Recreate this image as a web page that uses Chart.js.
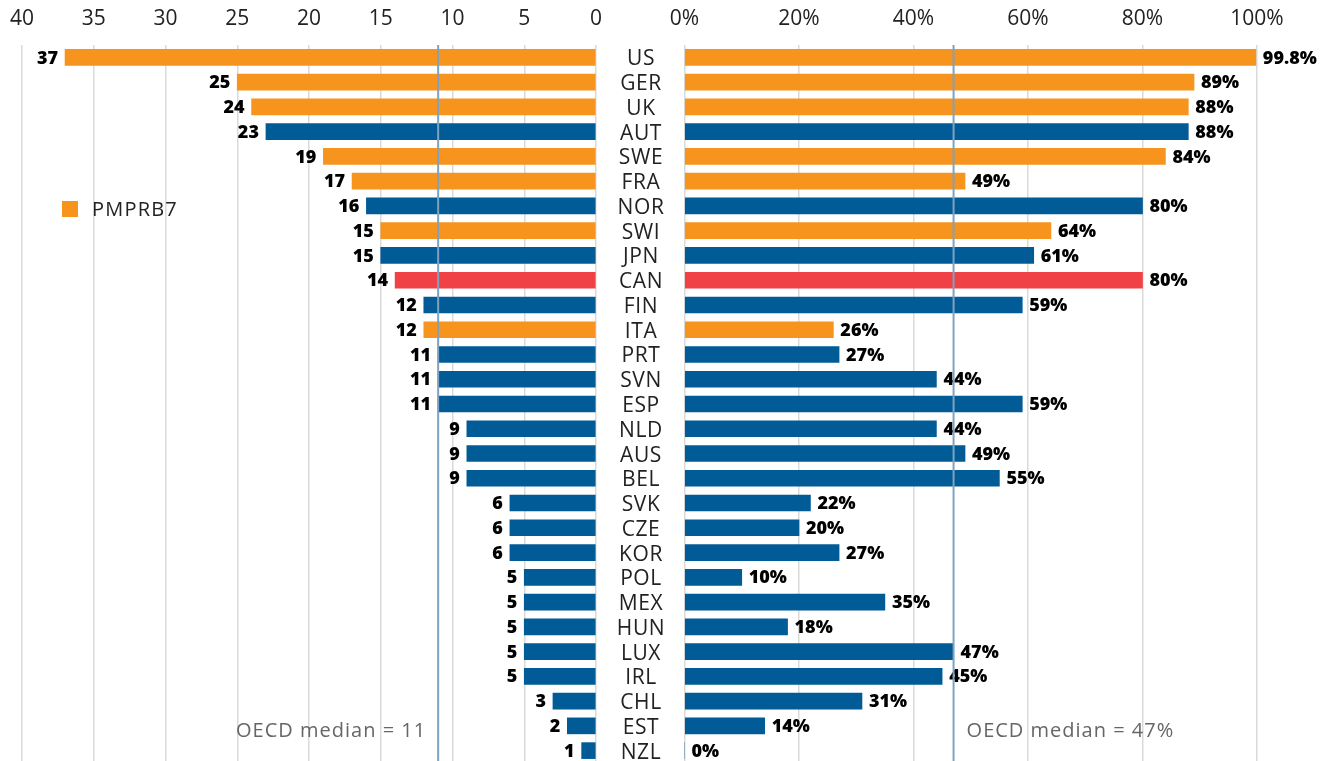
<!DOCTYPE html>
<html>
<head>
<meta charset="utf-8">
<script src="https://cdn.jsdelivr.net/npm/chart.js@4.4.1/dist/chart.umd.min.js"></script>
<style>
  html, body { margin:0; padding:0; background:#fff; overflow:hidden; }
  body { width:1334px; height:761px; position:relative; }
  #leftWrap  { position:absolute; left:0;   top:0; width:610px; height:763px; }
  #rightWrap { position:absolute; left:600px; top:0; width:734px; height:763px; }
  .legend { position:absolute; left:62px; top:195px; font:20px "Open Sans", sans-serif; letter-spacing:1.2px; color:#222; }
  .legend .sw { display:inline-block; width:16px; height:16px; background:#F7941D; vertical-align:-1px; margin-right:14px; }
</style>
</head>
<body>
<div id="leftWrap"><canvas id="leftChart"></canvas></div>
<div id="rightWrap"><canvas id="rightChart"></canvas></div>
<div class="legend"><span class="sw"></span>PMPRB7</div>
<script>
const COUNTRIES = ["US","GER","UK","AUT","SWE","FRA","NOR","SWI","JPN","CAN","FIN","ITA","PRT","SVN","ESP",
                   "NLD","AUS","BEL","SVK","CZE","KOR","POL","MEX","HUN","LUX","IRL","CHL","EST","NZL"];
const COUNT_VALUES = [37,25,24,23,19,17,16,15,15,14,12,12,11,11,11,9,9,9,6,6,6,5,5,5,5,5,3,2,1];
const SHARE_VALUES = [99.8,89,88,88,84,49,80,64,61,80,59,26,27,44,59,44,49,55,22,20,27,10,35,18,47,45,31,14,0];
const SHARE_LABELS = ["99.8%","89%","88%","88%","84%","49%","80%","64%","61%","80%","59%","26%","27%","44%","59%",
                      "44%","49%","55%","22%","20%","27%","10%","35%","18%","47%","45%","31%","14%","0%"];
const PMPRB7 = ["US","GER","UK","SWE","FRA","SWI","ITA"];
const HIGHLIGHT = "CAN";
const MEDIAN_COUNT = 11;
const MEDIAN_SHARE = 47;

const ORANGE = "#F7941D", BLUE = "#005B96", RED = "#EF4146";
const colors = COUNTRIES.map(c => c===HIGHLIGHT ? RED : (PMPRB7.includes(c) ? ORANGE : BLUE));
const FONT = '"Open Sans", sans-serif';

function barLabels(texts, side) {
  return {
    id: "barLabels",
    afterDatasetsDraw(chart) {
      const ctx = chart.ctx;
      const meta = chart.getDatasetMeta(0);
      ctx.save();
      ctx.font = "800 18px " + FONT;
      ctx.fillStyle = "#000";
      ctx.textBaseline = "middle";
      ctx.textAlign = side==="left" ? "right" : "left";
      meta.data.forEach((bar,i)=>{
        const x = side==="left" ? bar.x - 7 : bar.x + 7;
        ctx.fillText(texts[i], x, bar.y + 1);
      });
      ctx.restore();
    }
  };
}
// category names sit between the two panels, placed from the right chart's y scale
const categoryLabels = {
  id: "categoryLabels",
  afterDraw(chart) {
    const ctx = chart.ctx, y = chart.scales.y;
    ctx.save();
    ctx.font = "21px " + FONT;
    ctx.letterSpacing = "0.6px";
    ctx.fillStyle = "#222";
    ctx.textAlign = "center";
    ctx.textBaseline = "middle";
    COUNTRIES.forEach((c,i)=> ctx.fillText(c, y.left + 41, y.getPixelForValue(i) + 2));
    ctx.restore();
  }
};
function medianLine(value, text, side) {
  return {
    id: "medianLine",
    afterDatasetsDraw(chart) {
      const ctx = chart.ctx, ca = chart.chartArea;
      const x = chart.scales.x.getPixelForValue(value);
      ctx.save();
      ctx.strokeStyle = "#7FA2C1";
      ctx.lineWidth = 2;
      ctx.beginPath(); ctx.moveTo(x, ca.top); ctx.lineTo(x, ca.bottom); ctx.stroke();
      ctx.font = "20px " + FONT;
      ctx.letterSpacing = "1px";
      ctx.fillStyle = "#666";
      ctx.textBaseline = "middle";
      ctx.textAlign = side==="left" ? "right" : "left";
      ctx.fillText(text, side==="left" ? x - 12 : x + 13, chart.scales.y.getPixelForValue(COUNTRIES.length-2) + 5);
      ctx.restore();
    }
  };
}

const gridCommon = { color:"#DADADA", lineWidth:1.5, drawTicks:false };
// let layout.padding alone decide the plot edges
function fitTop(s) { s.height = 45; s.paddingLeft = 0; s.paddingRight = 0; }

new Chart(document.getElementById("leftChart"), {
  type: "bar",
  data: { labels: COUNTRIES, datasets: [{ data: COUNT_VALUES, backgroundColor: colors, barThickness: 16 }] },
  options: {
    indexAxis: "y", responsive: true, maintainAspectRatio: false, animation: false,
    layout: { padding: { left: 22, right: 14, top: 0, bottom: 0 } },
    plugins: { legend: { display:false }, tooltip: { enabled:false } },
    scales: {
      x: { position:"top", reverse:true, min:0, max:40,
           ticks: { stepSize:5, color:"#222", font:{ family:FONT, size:21 }, padding:13 },
           grid: gridCommon, border: { display:false },
           afterFit: fitTop },
      y: { display:false }
    }
  },
  plugins: [barLabels(COUNT_VALUES.map(String), "left"), medianLine(MEDIAN_COUNT, "OECD median = " + MEDIAN_COUNT, "left")]
});

new Chart(document.getElementById("rightChart"), {
  type: "bar",
  data: { labels: COUNTRIES, datasets: [{ data: SHARE_VALUES, backgroundColor: colors, barThickness: 16 }] },
  options: {
    indexAxis: "y", responsive: true, maintainAspectRatio: false, animation: false,
    layout: { padding: { left: 0, right: 77, top: 0, bottom: 0 } },
    plugins: { legend: { display:false }, tooltip: { enabled:false } },
    scales: {
      x: { position:"top", min:0, max:100,
           ticks: { stepSize:20, color:"#222", font:{ family:FONT, size:21 }, padding:13, callback: v => v + "%" },
           grid: gridCommon, border: { display:false },
           afterFit: fitTop },
      y: { position:"left", ticks: { display:false },
           grid: { display:false }, border: { display:false },
           afterFit(s) { s.width = 84.5; } }
    }
  },
  plugins: [barLabels(SHARE_LABELS, "right"), categoryLabels, medianLine(MEDIAN_SHARE, "OECD median = " + MEDIAN_SHARE + "%", "right")]
});
</script>
</body>
</html>
